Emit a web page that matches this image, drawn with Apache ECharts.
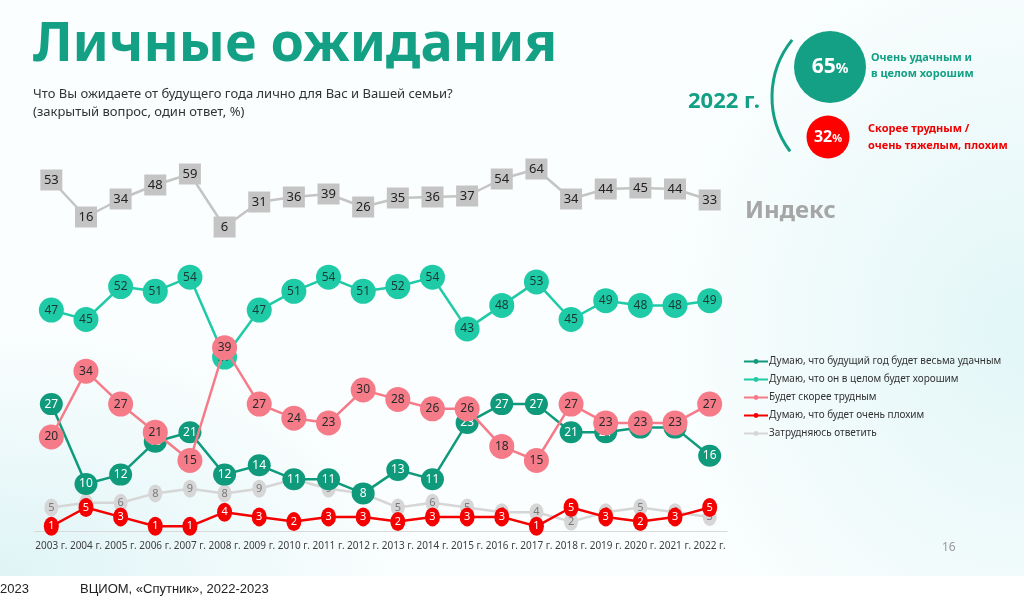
<!DOCTYPE html>
<html>
<head>
<meta charset="utf-8">
<script src="https://cdn.jsdelivr.net/npm/echarts@6/dist/echarts.min.js"></script>
<style>
  html, body { margin: 0; padding: 0; }
  body {
    width: 1024px; height: 604px; overflow: hidden;
    background: #ffffff;
  }
  #slide {
    position: absolute; left: 0; top: 0; width: 1024px; height: 576px;
    background:
      radial-gradient(ellipse 420px 260px at 0px 576px, #dff4f6 0%, rgba(223,244,246,0) 100%),
      radial-gradient(ellipse 380px 420px at 1024px 330px, #e2f6f7 0%, rgba(226,246,247,0) 100%),
      #fbfefe;
  }
  #chart { position: absolute; left: 0; top: 0; width: 1024px; height: 604px; }
</style>
</head>
<body>
<div id="slide"></div>
<div id="chart"></div>
<script>
const years = ['2003 г.', '2004 г.', '2005 г.', '2006 г.', '2007 г.', '2008 г.', '2009 г.',
  '2010 г.', '2011 г.', '2012 г.', '2013 г.', '2014 г.', '2015 г.', '2016 г.', '2017 г.',
  '2018 г.', '2019 г.', '2020 г.', '2021 г.', '2022 г.'];

const indexValues = [53, 16, 34, 48, 59, 6, 31, 36, 39, 26, 35, 36, 37, 54, 64, 34, 44, 45, 44, 33];
const veryGood = [27, 10, 12, 19, 21, 12, 14, 11, 11, 8, 13, 11, 23, 27, 27, 21, 21, 22, 22, 16];
const good = [47, 45, 52, 51, 54, 37, 47, 51, 54, 51, 52, 54, 43, 48, 53, 45, 49, 48, 48, 49];
const hard = [20, 34, 27, 21, 15, 39, 27, 24, 23, 30, 28, 26, 26, 18, 15, 27, 23, 23, 23, 27];
const veryBad = [1, 5, 3, 1, 1, 4, 3, 2, 3, 3, 2, 3, 3, 3, 1, 5, 3, 2, 3, 5];
const unsure = [5, 6, 6, 8, 9, 8, 9, 11, 9, 8, 5, 6, 5, 4, 4, 2, 4, 5, 4, 3];

const seriesNames = [
  'Думаю, что будущий год будет весьма удачным',
  'Думаю, что он в целом будет хорошим',
  'Будет скорее трудным',
  'Думаю, что будет очень плохим',
  'Затрудняюсь ответить'
];

const TEAL = '#13a084';
const DARK_TEAL = '#0f9a7c';
const LIGHT_TEAL = '#1fcaa7';
const PINK = '#f67b88';
const RED = '#f50000';
const GRAY = '#d6d6d6';
const FONT = 'Noto Sans';

const chart = echarts.init(document.getElementById('chart'), null, { renderer: 'canvas' });

function lineSeries(name, data, color, size, labelColor, fontSize, z) {
  return {
    name: name,
    type: 'line',
    xAxisIndex: 0,
    yAxisIndex: 0,
    data: data,
    z: z,
    symbol: 'circle',
    symbolSize: size,
    lineStyle: { color: color, width: 2.5 },
    itemStyle: { color: color },
    label: {
      show: true,
      position: 'inside',
      color: labelColor,
      fontSize: fontSize,
      fontFamily: FONT
    },
    emphasis: { disabled: true },
    animation: false
  };
}

const option = {
  animation: false,
  textStyle: { fontFamily: FONT },
  grid: [
    { left: 34, width: 693, top: 155, bottom: 73 },
    { left: 34, width: 693, top: 133, bottom: 371 }
  ],
  xAxis: [
    {
      gridIndex: 0,
      type: 'category',
      data: years,
      axisLine: { lineStyle: { color: '#d9d9d9' } },
      axisTick: { show: false },
      axisLabel: { interval: 0, color: '#404040', fontSize: 10, margin: 10, fontFamily: FONT }
    },
    {
      gridIndex: 1,
      type: 'category',
      data: years,
      show: false
    }
  ],
  yAxis: [
    { gridIndex: 0, type: 'value', min: 0, max: 80, show: false, splitLine: { show: false } },
    { gridIndex: 1, type: 'value', min: 0, max: 100, show: false, splitLine: { show: false } }
  ],
  legend: {
    orient: 'vertical',
    left: 738,
    top: 350,
    itemWidth: 24,
    itemHeight: 6,
    itemGap: 5,
    data: seriesNames,
    textStyle: { color: '#333', fontSize: 10, lineHeight: 13, fontFamily: FONT, padding: [0, 0, 0, -4] }
  },
  series: [
    lineSeries(seriesNames[0], veryGood, DARK_TEAL, [23, 22], '#ffffff', 12, 3),
    lineSeries(seriesNames[1], good, LIGHT_TEAL, 25, '#1b3a34', 12, 4),
    lineSeries(seriesNames[2], hard, PINK, 25, '#2a2a2a', 12, 5),
    lineSeries(seriesNames[3], veryBad, RED, [15, 19], '#ffffff', 11, 6),
    lineSeries(seriesNames[4], unsure, GRAY, [14, 18], '#7a7a7a', 11, 2),
    {
      name: 'Индекс',
      type: 'line',
      xAxisIndex: 1,
      yAxisIndex: 1,
      data: indexValues,
      symbol: 'rect',
      symbolSize: [22, 21],
      lineStyle: { color: '#c4c4c4', width: 2.5 },
      itemStyle: { color: '#c4c4c4' },
      label: { show: true, position: 'inside', color: '#222', fontSize: 13, fontFamily: FONT },
      emphasis: { disabled: true },
      animation: false
    }
  ],
  graphic: [
    {
      type: 'text', left: 33, top: 19,
      style: { text: 'Личные ожидания', fill: TEAL, font: 'bold 54px "Noto Sans"' }
    },
    {
      type: 'text', left: 33, top: 85,
      style: {
        text: 'Что Вы ожидаете от будущего года лично для Вас и Вашей семьи?\n(закрытый вопрос, один ответ, %)',
        fill: '#333', font: '13px "Noto Sans"', lineHeight: 18
      }
    },
    {
      type: 'arc',
      shape: { cx: 863, cy: 97, r: 91, startAngle: 2.5, endAngle: 3.82, clockwise: true },
      style: { stroke: TEAL, lineWidth: 3, fill: null }
    },
    {
      type: 'text', left: 688, top: 91,
      style: { text: '2022 г.', fill: TEAL, font: 'bold 22px "Noto Sans"' }
    },
    {
      type: 'circle', shape: { cx: 830, cy: 67, r: 36 },
      style: { fill: TEAL }
    },
    {
      type: 'text', x: 830, y: 67,
      style: {
        text: '{a|65}{b|%}', align: 'center', verticalAlign: 'middle',
        rich: {
          a: { fill: '#fff', font: 'bold 21px "Noto Sans"' },
          b: { fill: '#fff', font: 'bold 14px "Noto Sans"', padding: [4, 0, 0, 0] }
        }
      }
    },
    {
      type: 'circle', shape: { cx: 828, cy: 137, r: 21.5 },
      style: { fill: '#ff0000' }
    },
    {
      type: 'text', x: 828, y: 137,
      style: {
        text: '{a|32}{b|%}', align: 'center', verticalAlign: 'middle',
        rich: {
          a: { fill: '#fff', font: 'bold 16px "Noto Sans"' },
          b: { fill: '#fff', font: 'bold 11px "Noto Sans"', padding: [3, 0, 0, 0] }
        }
      }
    },
    {
      type: 'text', left: 871, top: 50,
      style: { text: 'Очень удачным и\nв целом хорошим', fill: TEAL, font: 'bold 11px "Noto Sans"', lineHeight: 16 }
    },
    {
      type: 'text', left: 868, top: 120,
      style: { text: 'Скорее трудным /\nочень тяжелым, плохим', fill: '#f00000', font: 'bold 11px "Noto Sans"', lineHeight: 17 }
    },
    {
      type: 'text', left: 745, top: 199,
      style: { text: 'Индекс', fill: '#a6a6a6', font: 'bold 24px "Noto Sans"' }
    },
    {
      type: 'text', left: 942, top: 542,
      style: { text: '16', fill: '#9a9a9a', font: '12px "Noto Sans"' }
    },
    {
      type: 'text', left: 0, top: 583,
      style: { text: '2023', fill: '#222', font: '13px "Liberation Sans"' }
    },
    {
      type: 'text', left: 80, top: 583,
      style: { text: 'ВЦИОМ, «Спутник», 2022-2023', fill: '#222', font: '13px "Liberation Sans"' }
    }
  ]
};

chart.setOption(option);
</script>
</body>
</html>
